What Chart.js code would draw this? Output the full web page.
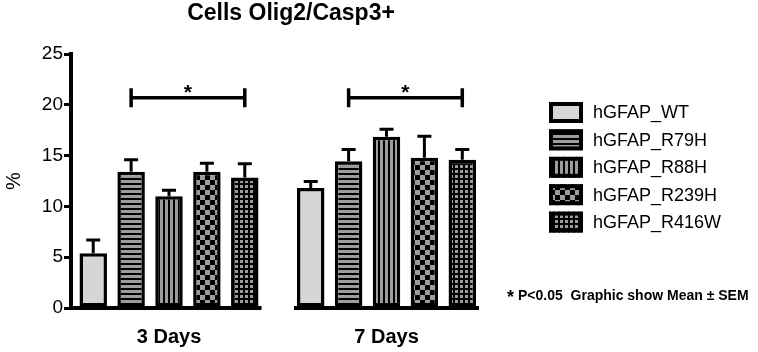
<!DOCTYPE html>
<html>
<head>
<meta charset="utf-8">
<script src="https://cdn.jsdelivr.net/npm/chart.js@4.4.1/dist/chart.umd.min.js"></script>
<style>
  html, body { margin: 0; padding: 0; background: #fff; }
</style>
</head>
<body>
<canvas id="chart" width="758" height="352"></canvas>
<script>
const categories = ["3 Days", "7 Days"];
const seriesNames = ["hGFAP_WT", "hGFAP_R79H", "hGFAP_R88H", "hGFAP_R239H", "hGFAP_R416W"];
const meanWT = [5.4, 11.8];
const meanR79H = [13.4, 14.45];
const meanR88H = [11.0, 16.85];
const meanR239H = [13.4, 14.8];
const meanR416W = [12.85, 14.6];
const semWT = [1.3, 0.65];
const semR79H = [1.2, 1.15];
const semR88H = [0.6, 0.75];
const semR239H = [0.85, 2.1];
const semR416W = [1.35, 1.0];
const yTicks = [0, 5, 10, 15, 20, 25];
// significance bracket in each group: from series 1 to series 4
const sigFrom = 1;
const sigTo = 4;
const sigHeight = 20.7;
const sigLabel = "*";
const titleText = "Cells Olig2/Casp3+";
const footnote = "P<0.05  Graphic show Mean \u00b1 SEM";

const means = [meanWT, meanR79H, meanR88H, meanR239H, meanR416W];
const sems = [semWT, semR79H, semR88H, semR239H, semR416W];

const FONT = "'Liberation Sans', Arial, sans-serif";
const LIGHT = "#d6d6d6";
const MID = "#9c9c9c";

function makePattern(kind) {
  if (kind === "solid") return LIGHT;
  const c = document.createElement("canvas");
  const g = c.getContext("2d");
  if (kind === "hstripe") {
    c.width = 5; c.height = 5;
    g.fillStyle = MID; g.fillRect(0, 0, 5, 5);
    g.fillStyle = "#000"; g.fillRect(0, 3, 5, 2);
  } else if (kind === "vstripe") {
    c.width = 5; c.height = 5;
    g.fillStyle = MID; g.fillRect(0, 0, 5, 5);
    g.fillStyle = "#000"; g.fillRect(3, 0, 2, 5);
  } else if (kind === "checker") {
    c.width = 10; c.height = 10;
    g.fillStyle = MID; g.fillRect(0, 0, 10, 10);
    g.fillStyle = "#000"; g.fillRect(0, 0, 5, 5); g.fillRect(5, 5, 5, 5);
  } else if (kind === "grid") {
    c.width = 5; c.height = 5;
    g.fillStyle = "#000"; g.fillRect(0, 0, 5, 5);
    g.fillStyle = MID; g.fillRect(0, 0, 3, 3);
  }
  return g.createPattern(c, "repeat");
}

const fills = ["solid", "hstripe", "vstripe", "checker", "grid"].map(makePattern);

const extras = {
  id: "extras",
  afterDraw(chart) {
    const ctx = chart.ctx;
    const y = chart.scales.y;
    const area = chart.chartArea;
    const last = means.length - 1;
    ctx.save();
    ctx.strokeStyle = "#000";
    ctx.fillStyle = "#000";
    ctx.lineCap = "butt";

    // broken baseline under each group
    ctx.lineWidth = 4;
    categories.forEach((c, i) => {
      const a = chart.getDatasetMeta(0).data[i];
      const b = chart.getDatasetMeta(last).data[i];
      const x1 = i === 0 ? area.left : a.x - a.width / 2 - 3;
      const x2 = b.x + b.width / 2 + 3;
      ctx.beginPath();
      ctx.moveTo(x1, area.bottom);
      ctx.lineTo(x2, area.bottom);
      ctx.stroke();
    });

    // error bars (upper only)
    ctx.lineWidth = 3;
    means.forEach((m, k) => {
      chart.getDatasetMeta(k).data.forEach((el, i) => {
        const top = y.getPixelForValue(m[i] + sems[k][i]);
        ctx.beginPath();
        ctx.moveTo(el.x, el.y);
        ctx.lineTo(el.x, top);
        ctx.moveTo(el.x - 7, top);
        ctx.lineTo(el.x + 7, top);
        ctx.stroke();
      });
    });

    // significance brackets
    ctx.lineWidth = 3.5;
    const yb = y.getPixelForValue(sigHeight);
    categories.forEach((c, i) => {
      const x1 = chart.getDatasetMeta(sigFrom).data[i].x;
      const x2 = chart.getDatasetMeta(sigTo).data[i].x;
      ctx.beginPath();
      ctx.moveTo(x1, yb);
      ctx.lineTo(x2, yb);
      ctx.moveTo(x1, yb - 9.5);
      ctx.lineTo(x1, yb + 9.5);
      ctx.moveTo(x2, yb - 9.5);
      ctx.lineTo(x2, yb + 9.5);
      ctx.stroke();
      ctx.font = "bold 21px " + FONT;
      ctx.textAlign = "center";
      ctx.textBaseline = "alphabetic";
      ctx.fillText(sigLabel, (x1 + x2) / 2, yb + 1);
    });

    // title
    ctx.font = "bold 23px " + FONT;
    ctx.textAlign = "center";
    ctx.textBaseline = "middle";
    ctx.fillText(titleText, 291, 14);

    // legend
    seriesNames.forEach((name, k) => {
      const cy = 112.5 + k * 27.4;
      ctx.fillStyle = fills[k];
      ctx.fillRect(549, cy - 10.5, 34, 21);
      ctx.lineWidth = 4;
      ctx.strokeRect(551, cy - 8.5, 30, 17);
      ctx.fillStyle = "#000";
      ctx.font = "18px " + FONT;
      ctx.textAlign = "left";
      ctx.textBaseline = "middle";
      ctx.fillText(name, 593, cy + 1);
    });

    // footnote
    ctx.textAlign = "left";
    ctx.textBaseline = "middle";
    ctx.font = "bold 18px " + FONT;
    ctx.fillText("*", 507, 298);
    ctx.font = "bold 14px " + FONT;
    ctx.fillText(footnote, 518, 296);
    ctx.restore();
  }
};

new Chart(document.getElementById("chart"), {
  type: "bar",
  data: {
    labels: categories.map((c, i) => i),
    datasets: seriesNames.map((name, k) => ({
      label: name,
      data: means[k],
      backgroundColor: fills[k],
      borderColor: "#000",
      borderWidth: 3.5,
      borderSkipped: false,
      categoryPercentage: 0.871,
      barPercentage: 0.725,
    })),
  },
  options: {
    responsive: false,
    animation: false,
    layout: { padding: { top: 54, right: 258, bottom: 0, left: 0 } },
    plugins: {
      legend: { display: false },
      tooltip: { enabled: false },
    },
    scales: {
      x: {
        type: "linear",
        min: -0.4506,
        max: 1.5218,
        offset: false,
        grid: { display: false, drawTicks: false },
        border: { display: false },
        afterBuildTicks: (s) => {
          s.ticks = categories.map((c, i) => ({ value: i }));
        },
        ticks: {
          callback: (v) => categories[v],
          font: { family: FONT, size: 20, weight: "bold" },
          color: "#000",
          padding: 17,
          maxRotation: 0,
          autoSkip: false,
        },
        afterFit: (s) => { s.height = 44; },
      },
      y: {
        min: 0,
        max: 25,
        afterBuildTicks: (s) => {
          s.ticks = yTicks.map((v) => ({ value: v }));
        },
        ticks: { font: { family: FONT, size: 19 }, color: "#000", padding: 1 },
        grid: { drawOnChartArea: false, drawTicks: true, tickLength: 7, color: "#000", lineWidth: 3 },
        border: { display: true, color: "#000", width: 4 },
        title: { display: true, text: "%", font: { family: FONT, size: 20 }, color: "#000", padding: { top: 2 } },
        afterFit: (s) => { s.width = 71; },
      },
    },
  },
  plugins: [extras],
});
</script>
</body>
</html>
